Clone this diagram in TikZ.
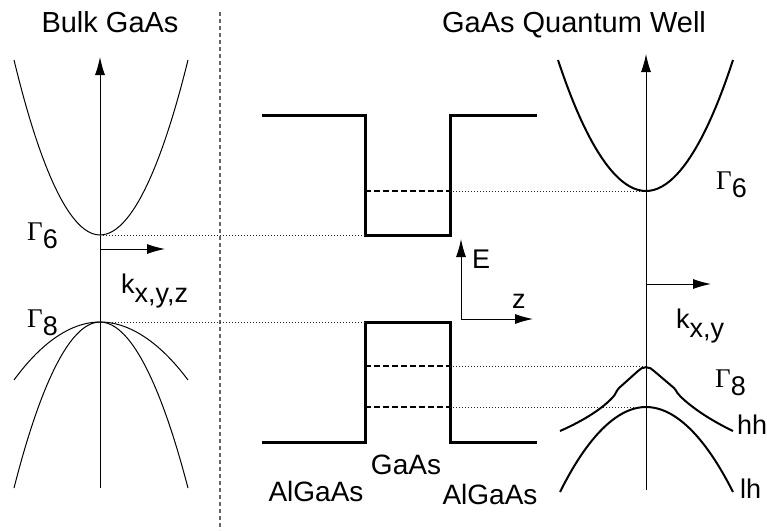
\documentclass[tikz,border=0pt]{standalone}
\usepackage{fontspec}
\setmainfont{Liberation Sans}
\newfontfamily\grkfont{Liberation Serif}
\usetikzlibrary{arrows.meta}

% Gamma symbol with a lowered index of the same size
\newcommand\gsym[1]{{\grkfont Γ}\raisebox{-8pt}{#1}}

\tikzset{
  axis/.style={line width=1pt, -{Latex[length=18pt,width=10pt]}},
  thinband/.style={line width=1pt},
  band/.style={line width=2pt},
  edge/.style={line width=3pt, line join=miter},
  level/.style={line width=2pt, dash pattern=on 6pt off 3pt},
  guide/.style={line width=1pt, dash pattern=on 1pt off 2pt, black!85},
  divider/.style={line width=1.5pt, dash pattern=on 4pt off 3pt, black!60},
  lbl/.style={inner sep=0pt, font=\fontsize{27}{27}\selectfont},
  title/.style={inner sep=0pt, font=\fontsize{29}{29}\selectfont},
  layer/.style={inner sep=0pt, font=\fontsize{28}{28}\selectfont},
}

\begin{document}
\begin{tikzpicture}[x=1pt, y=-1pt]
\useasboundingbox (0,0) rectangle (767,530);

% ---------- key points ----------
% bulk GaAs
\coordinate (bAxisLo) at (100,488);
\coordinate (bAxisHi) at (100,57);
\coordinate (bKo)     at (100,249);
\coordinate (bKe)     at (165,249);
\coordinate (bG6)     at (100,235);
\coordinate (bG8)     at (100,322);
% quantum well profile
\coordinate (cbL)  at (262,115);
\coordinate (cbA)  at (365,115);
\coordinate (cbB)  at (365,235);
\coordinate (cbC)  at (450,235);
\coordinate (cbD)  at (450,115);
\coordinate (cbR)  at (537,115);
\coordinate (vbL)  at (262,442);
\coordinate (vbA)  at (365,442);
\coordinate (vbB)  at (365,322);
\coordinate (vbC)  at (450,322);
\coordinate (vbD)  at (450,442);
\coordinate (vbR)  at (537,442);
\coordinate (e1L)  at (365,191);
\coordinate (e1R)  at (450,191);
\coordinate (h1L)  at (365,366);
\coordinate (h1R)  at (450,366);
\coordinate (l1L)  at (365,407);
\coordinate (l1R)  at (450,407);
\coordinate (ezO)  at (461,319);
\coordinate (ezE)  at (461,239);
\coordinate (ezZ)  at (533,319);
% quantum well dispersion
\coordinate (qAxisLo) at (646,490);
\coordinate (qAxisHi) at (646,54);
\coordinate (qKo)     at (646,284);
\coordinate (qKe)     at (711,284);
\coordinate (qG6)     at (646,191);
\coordinate (qHH)     at (646,366);
\coordinate (qLH)     at (646,407);

% ---------- divider ----------
\coordinate (divTop) at (220,12);
\coordinate (divBot) at (220,530);
\draw[divider] (divTop) -- (divBot);

% ---------- titles ----------
\node[title, anchor=base] (tBulk) at (110,32) {Bulk GaAs};
\node[title, anchor=base] (tQW)   at (574,32) {GaAs Quantum Well};

% ---------- bulk bands ----------
\draw[axis] (bAxisLo) -- (bAxisHi);
\draw[axis] (bKo) -- (bKe);
\draw[thinband] (14,60) parabola bend (bG6) (188,60);
\draw[thinband] (14,380) parabola bend (bG8) (188,380);
\draw[thinband] (14,488) parabola bend (bG8) (188,488);

\node[lbl, anchor=base west] (bG6lbl) at (27,240) {\gsym{6}};
\node[lbl, anchor=base west] (bG8lbl) at (27,327) {\gsym{8}};
\node[lbl, anchor=base west] (bKlbl)  at (121,293) {k\raisebox{-9pt}{x,y,z}};

% ---------- well profile ----------
\draw[edge] (cbL) -- (cbA) -- (cbB) -- (cbC) -- (cbD) -- (cbR);
\draw[edge] (vbL) -- (vbA) -- (vbB) -- (vbC) -- (vbD) -- (vbR);
\draw[level] (e1L) -- (e1R);
\draw[level] (h1L) -- (h1R);
\draw[level] (l1L) -- (l1R);

\draw[axis] (ezO) -- (ezE);
\draw[axis] (ezO) -- (ezZ);
\node[lbl, anchor=base west] (eLbl) at (472,268) {E};
\node[lbl, anchor=base west] (zLbl) at (512,308) {z};

\node[layer, anchor=base] (lGaAs) at (406,474) {GaAs};
\node[layer, anchor=base] (lAlL)  at (316,501) {AlGaAs};
\node[layer, anchor=base] (lAlR)  at (490,504) {AlGaAs};

% ---------- guide lines ----------
\draw[guide] (bG6) -- (cbB);
\draw[guide] (bG8) -- (vbB);
\draw[guide] (e1R) -- (qG6);
\draw[guide] (h1R) -- (qHH);
\draw[guide] (l1R) -- (qLH);

% ---------- well dispersion ----------
\draw[axis] (qAxisLo) -- (qAxisHi);
\draw[axis] (qKo) -- (qKe);
\draw[band] (558,60) parabola bend (qG6) (733,60);
\draw[band] (560,492) parabola bend (qLH) (733,492);
\draw[band, line join=round]
  (560,431) .. controls (585,420) and (603,408) .. (613,397)
  .. controls (616,394) and (616,391) .. (619,388)
  -- (638,371) .. controls (642,366) and (650,366) .. (654,371)
  -- (674,388) .. controls (677,391) and (677,394) .. (680,396)
  .. controls (692,408) and (712,421) .. (733,431);

\node[lbl, anchor=base west] (qG6lbl) at (716,189) {\gsym{6}};
\node[lbl, anchor=base west] (qG8lbl) at (715,387) {\gsym{8}};
\node[lbl, anchor=base west] (qKlbl)  at (676,328) {k\raisebox{-9pt}{x,y}};
\node[lbl, anchor=base west] (hhLbl)  at (737,434) {hh};
\node[lbl, anchor=base west] (lhLbl)  at (740,498) {lh};
\end{tikzpicture}
\end{document}
